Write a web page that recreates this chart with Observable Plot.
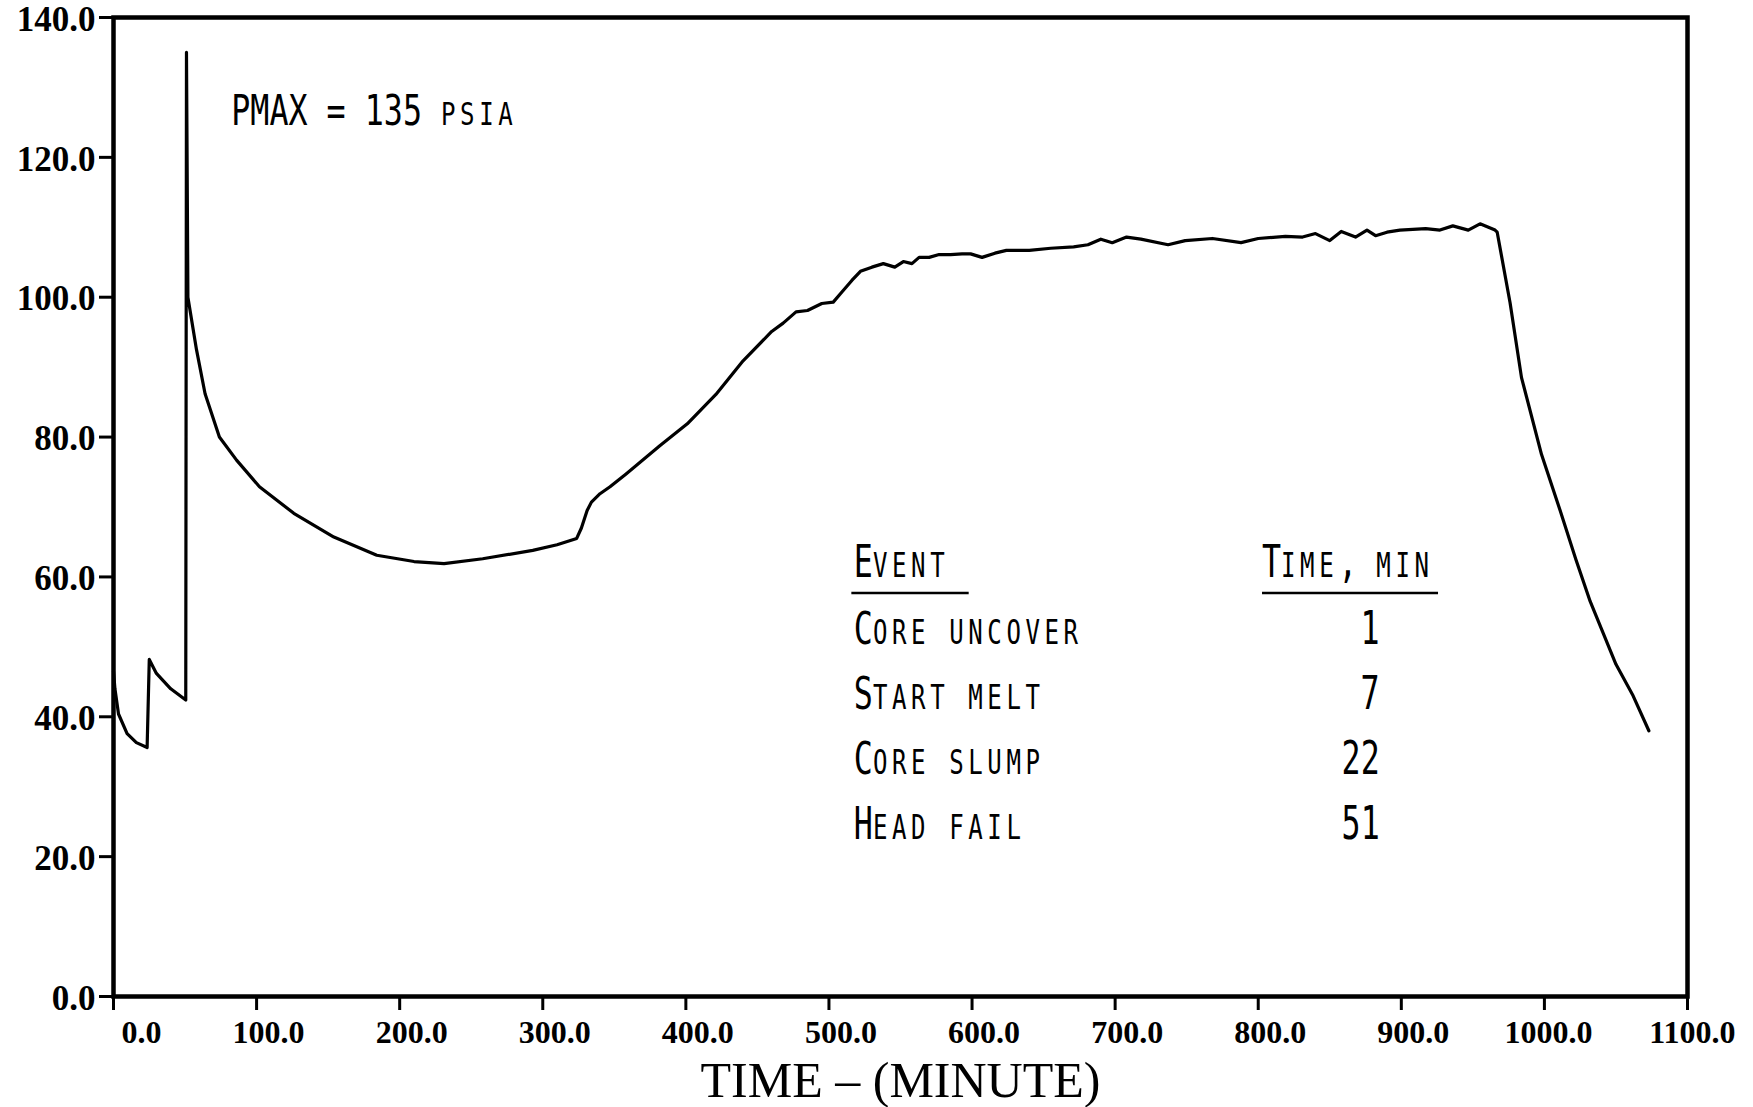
<!DOCTYPE html>
<html>
<head>
<meta charset="utf-8">
<script src="https://cdn.jsdelivr.net/npm/d3@7"></script>
<script src="https://cdn.jsdelivr.net/npm/@observablehq/plot@0.6"></script>
<style>
  html, body { margin: 0; padding: 0; background: #ffffff; }
  #chart { width: 1753px; height: 1107px; }
</style>
</head>
<body>
<div id="chart"></div>
<script>
// ---- data ----
const times = [0, 1, 3.5, 9.5, 16, 23.5, 25, 30, 40, 50.5, 51, 52, 58, 64, 74, 86, 102, 126, 154, 184, 210, 231, 258, 293, 310, 323.7, 327, 331, 334, 340, 347, 358, 382, 401, 421, 440, 460, 468, 477, 485, 495, 503, 508, 516, 522, 530, 538, 546, 552, 558, 563, 570, 577, 585, 593, 599, 607, 616, 624, 640, 655, 671, 681, 690, 698, 708, 718, 737, 749, 768, 788, 800, 819, 831, 840, 850, 858, 868, 876, 882, 890, 899, 917, 927, 936, 946.8, 955, 965.5, 967, 976, 984, 998, 1011, 1022, 1032, 1041, 1050, 1062, 1073];
const pressures = [46.5, 44.0, 40.4, 37.6, 36.3, 35.6, 48.2, 46.2, 44.0, 42.4, 135, 100, 92.5, 86.2, 80.0, 76.7, 72.9, 69.1, 65.7, 63.1, 62.2, 61.9, 62.6, 63.8, 64.6, 65.5, 67.0, 69.5, 70.7, 71.9, 72.9, 74.7, 78.8, 81.9, 86.1, 90.9, 95.1, 96.3, 97.9, 98.1, 99.1, 99.3, 100.5, 102.4, 103.7, 104.3, 104.8, 104.3, 105.1, 104.8, 105.7, 105.7, 106.1, 106.1, 106.2, 106.2, 105.7, 106.3, 106.7, 106.7, 107.0, 107.2, 107.5, 108.3, 107.8, 108.6, 108.3, 107.5, 108.1, 108.4, 107.8, 108.4, 108.7, 108.6, 109.1, 108.1, 109.4, 108.6, 109.6, 108.8, 109.3, 109.6, 109.8, 109.6, 110.2, 109.6, 110.5, 109.6, 109.3, 99.2, 88.5, 77.5, 69.5, 62.5, 56.5, 52.0, 47.5, 43.0, 38.0];

const xTicks = [0, 100, 200, 300, 400, 500, 600, 700, 800, 900, 1000, 1100];
const yTicks = [0, 20, 40, 60, 80, 100, 120, 140];

const events = ["Core uncover", "Start melt", "Core slump", "Head fail"];
const eventTimes = [1, 7, 22, 51];
const tableHeaders = ["Event", "Time, min"];
const annotation = "PMAX = 135 psia";
const xTitle = "TIME \u2013 (MINUTE)";

// ---- build ----
const series = times.map((t, i) => ({t, p: pressures[i]}));
const rows = events.map((e, i) => ({event: e, time: eventTimes[i], i}));

const mono = '"DejaVu Sans Mono", "Liberation Mono", monospace';
const serif = '"Liberation Serif", "DejaVu Serif", serif';

// layout of the annotations (data coordinates)
const F = 44;                 // annotation font size
const squeezeX = 0.72;        // narrow typewriter lettering
const SC = 0.76;              // small-capital height ratio
const pmaxX = 82.4, pmaxY = 124.6;
const colEventX = 517.5, colTimeLeft = 802.7, colTimeRight = 885;
const headerY = 60, underlineY = 57.7, rowY0 = 50.4, rowStep = 9.3;

const txt = {textAnchor: "start", lineAnchor: "bottom", fontFamily: mono, fontWeight: "normal", fontSize: F};

const chart = Plot.plot({
  width: 1753,
  height: 1107,
  marginLeft: 113,
  marginRight: 66,
  marginTop: 17,
  marginBottom: 111,
  style: {background: "#ffffff", color: "#000000", fontFamily: serif, fontSize: "32px", fontWeight: "bold"},
  x: {domain: [0, 1100]},
  y: {domain: [0, 140]},
  marks: [
    Plot.axisY({ticks: yTicks, tickFormat: () => "", tickSize: 14, strokeWidth: 3, label: null}),
    Plot.axisY({ticks: yTicks, tickFormat: d3.format(".1f"), tickSize: 0, tickPadding: 18, fontSize: 35, dy: 2, label: null}),
    Plot.axisX({ticks: xTicks, tickFormat: () => "", tickSize: 14, strokeWidth: 3, label: null}),
    Plot.axisX({ticks: xTicks, tickFormat: d3.format(".1f"), tickSize: 0, tickPadding: 24, textAnchor: "end", dx: 48, fontSize: 32, label: null}),
    Plot.frame({strokeWidth: 4.5, stroke: "#000"}),
    Plot.line(series, {x: "t", y: "p", stroke: "#000", strokeWidth: 3.2, strokeLinejoin: "round", strokeLinecap: "round"}),
    Plot.text([annotation], {...txt, x: pmaxX, y: pmaxY, text: d => d, fontSize: 42}),
    Plot.text([tableHeaders[0]], {...txt, x: colEventX, y: headerY, text: d => d}),
    Plot.text([tableHeaders[1]], {...txt, x: colTimeLeft, y: headerY, text: d => d}),
    Plot.ruleY([underlineY], {x1: 516, x2: 598, stroke: "#000", strokeWidth: 2.5}),
    Plot.ruleY([underlineY], {x1: 803, x2: 926, stroke: "#000", strokeWidth: 2.5}),
    Plot.text(rows, {...txt, x: colEventX, y: d => rowY0 - d.i * rowStep, text: "event"}),
    Plot.text(rows, {...txt, textAnchor: "end", x: colTimeRight, y: d => rowY0 - d.i * rowStep, text: d => String(d.time), fontSize: 46}),
    Plot.text([xTitle], {frameAnchor: "bottom", dy: 100, text: d => d, lineAnchor: "bottom", fontSize: 50, fontFamily: serif, fontWeight: "normal"})
  ]
});

// ---- typewriter small caps: lowercase letters drawn as small capitals in full cells ----
const SVGNS = "http://www.w3.org/2000/svg";
const xs = chart.scale("x");
function textEl(content) {
  return Array.from(chart.querySelectorAll("text")).find(e => e.textContent === content) || null;
}
function smallCaps(el, size) {
  if (!el) return;
  const s = el.textContent;
  el.textContent = "";
  for (const run of s.match(/[a-z]+|[^a-z]+/g)) {
    const ts = document.createElementNS(SVGNS, "tspan");
    ts.textContent = run;
    if (/[a-z]/.test(run)) {
      ts.style.textTransform = "uppercase";
      ts.style.fontSize = (size * SC).toFixed(2) + "px";
      ts.style.letterSpacing = (0.602 * size * (1 - SC)).toFixed(2) + "px";
    }
    el.appendChild(ts);
  }
}
function squeeze(g, x0, s) {
  if (!g) return;
  const px = xs.apply(x0);
  const prev = g.getAttribute("transform") || "";
  g.setAttribute("transform", `translate(${px * (1 - s)},0) scale(${s},1) ${prev}`);
}

const pm = textEl(annotation);
smallCaps(pm, 42);
if (pm) squeeze(pm.parentNode, pmaxX, squeezeX * F / 42);

const h0 = textEl(tableHeaders[0]);
smallCaps(h0, F);
if (h0) squeeze(h0.parentNode, colEventX, squeezeX);

const h1 = textEl(tableHeaders[1]);
smallCaps(h1, F);
if (h1) squeeze(h1.parentNode, colTimeLeft, squeezeX);

const evEls = events.map(textEl);
evEls.forEach(e => smallCaps(e, F));
if (evEls[0]) squeeze(evEls[0].parentNode, colEventX, squeezeX);

const tEl = textEl(String(eventTimes[0]));
if (tEl) squeeze(tEl.parentNode, colTimeRight, squeezeX * F / 46);

document.getElementById("chart").appendChild(chart);
</script>
</body>
</html>
